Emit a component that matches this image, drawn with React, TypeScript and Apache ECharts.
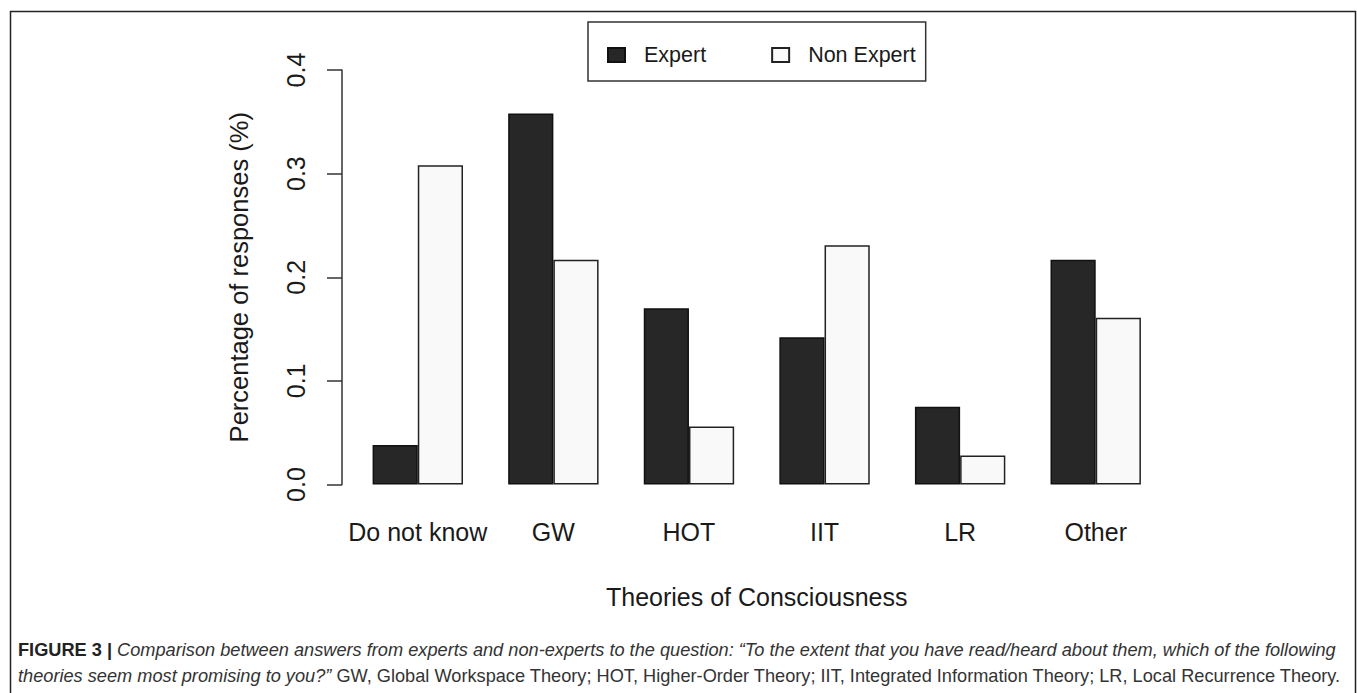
import React, { useEffect, useRef } from "react";
import * as echarts from "echarts";

const categories = ["Do not know", "GW", "HOT", "IIT", "LR", "Other"];
const expertValues = [0.038, 0.358, 0.17, 0.142, 0.075, 0.217];
const nonExpertValues = [0.308, 0.217, 0.056, 0.231, 0.028, 0.161];
const seriesNames = ["Expert", "Non Expert"];
const yTicks = [0, 0.1, 0.2, 0.3, 0.4];

const FONT = "'Liberation Sans', Arial, Helvetica, sans-serif";
const INK = "#1a1a1a";
const CAP = 18.2;

export default function App() {
  const ref = useRef<HTMLDivElement>(null);

  useEffect(() => {
    if (!ref.current) return;
    const chart = echarts.init(ref.current, undefined, { renderer: "svg" });
    chart.setOption({
      animation: false,
      backgroundColor: "#ffffff",
      textStyle: { fontFamily: FONT, color: INK },
      grid: { left: 350, right: 193.5, top: 70, bottom: 208.5, containLabel: false },
      legend: {
        left: 588,
        top: 22,
        orient: "horizontal",
        data: seriesNames,
        icon: "rect",
        itemWidth: 17,
        itemHeight: 14,
        itemGap: 65,
        padding: [21, 10, 14, 19],
        borderColor: "#333",
        borderWidth: 1.5,
        selectedMode: false,
        textStyle: { fontFamily: FONT, fontSize: 21.5, color: INK, lineHeight: 24, padding: [0, 0, 0, 14] },
      },
      xAxis: {
        type: "category",
        data: categories,
        axisLine: { show: false },
        axisTick: { show: false },
        axisLabel: { fontFamily: FONT, fontSize: 25, color: INK, margin: 35, interval: 0 },
        name: "Theories of Consciousness",
        nameLocation: "middle",
        nameGap: 100,
        nameTextStyle: { fontFamily: FONT, fontSize: 25, color: INK },
      },
      yAxis: {
        type: "value",
        min: 0,
        max: 0.4,
        interval: 0.1,
        offset: 8,
        splitLine: { show: false },
        axisLine: { show: true, lineStyle: { color: "#333", width: 1.5 } },
        axisTick: { show: true, length: 15, lineStyle: { color: "#333", width: 1.5 } },
        axisLabel: {
          fontFamily: FONT,
          fontSize: 25,
          color: INK,
          rotate: 90,
          margin: 34,
          formatter: (v: number) => (yTicks.some((t) => Math.abs(t - v) < 1e-9) ? v.toFixed(1) : ""),
        },
        name: "Percentage of responses (%)",
        nameLocation: "middle",
        nameGap: 90,
        nameRotate: 90,
        nameTextStyle: { fontFamily: FONT, fontSize: 25.5, color: INK },
      },
      series: [
        {
          name: seriesNames[0],
          type: "bar",
          data: expertValues,
          barWidth: 45.2,
          barGap: "0%",
          itemStyle: { color: "#272727", borderColor: "#111", borderWidth: 1.5 },
        },
        {
          name: seriesNames[1],
          type: "bar",
          data: nonExpertValues,
          barWidth: 45.2,
          barGap: "0%",
          itemStyle: { color: "#f9f9f9", borderColor: "#222", borderWidth: 1.5 },
        },
      ],
      graphic: [
        {
          type: "rect",
          left: 8,
          top: 9,
          shape: { width: 1345, height: 700 },
          style: { fill: "none", stroke: "#222", lineWidth: 1.5 },
          silent: true,
        },
        {
          type: "text",
          left: 18,
          top: 641,
          style: {
            text:
              "{b|FIGURE 3 |} {i|Comparison between answers from experts and non-experts to the question: “To the extent that you have read/heard about them, which of the following}",
            rich: {
              b: { fontFamily: FONT, fontWeight: "bold", fontSize: CAP, fill: "#222" },
              i: { fontFamily: FONT, fontStyle: "italic", fontSize: CAP, fill: "#333" },
            },
            fontFamily: FONT,
            fontSize: CAP,
            fill: "#333",
          },
        },
        {
          type: "text",
          left: 18,
          top: 667,
          style: {
            text:
              "{i|theories seem most promising to you?”} {n|GW, Global Workspace Theory; HOT, Higher-Order Theory; IIT, Integrated Information Theory; LR, Local Recurrence Theory.}",
            rich: {
              i: { fontFamily: FONT, fontStyle: "italic", fontSize: CAP, fill: "#333" },
              n: { fontFamily: FONT, fontSize: CAP, fill: "#333" },
            },
            fontFamily: FONT,
            fontSize: CAP,
            fill: "#333",
          },
        },
      ],
    });
    return () => chart.dispose();
  }, []);

  return (
    <div
      ref={ref}
      style={{ position: "absolute", left: 0, top: 0, width: 1357, height: 693 }}
    />
  );
}
